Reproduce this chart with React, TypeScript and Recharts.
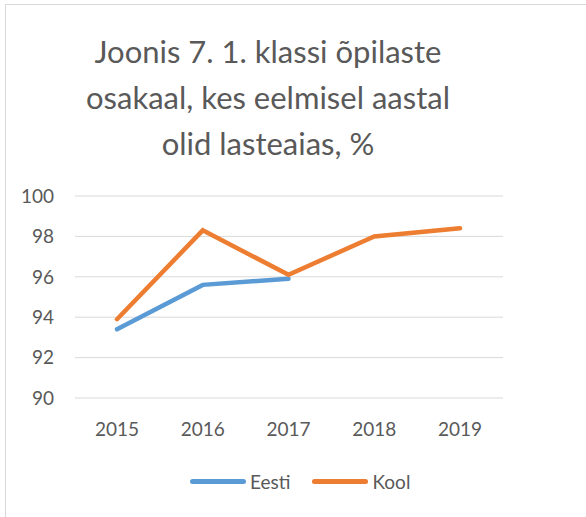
import { CartesianGrid, Line, LineChart, XAxis, YAxis } from "recharts";

const years = ["2015", "2016", "2017", "2018", "2019"];
const eesti: (number | null)[] = [93.4, 95.6, 95.9, null, null];
const kool: number[] = [93.9, 98.3, 96.1, 98.0, 98.4];
const yTicks = [90, 92, 94, 96, 98, 100];
const seriesNames = ["Eesti", "Kool"];
const seriesColors = ["#5b9bd5", "#ed7d31"];

const data = years.map((year, i) => ({ year, Eesti: eesti[i], Kool: kool[i] }));

const TEXT = "#595959";
const FONT = "Lato, 'Open Sans', sans-serif";

export default function App() {
  return (
    <div style={{ position: "absolute", left: 0, top: 0, width: 586, height: 517, overflow: "hidden", background: "#fff" }}>
      <div style={{ position: "absolute", left: 5, top: 4, width: 700, height: 700, border: "1px solid #d9d9d9" }} />
      <div
        style={{
          position: "absolute",
          left: 0,
          top: 28,
          width: 536,
          textAlign: "center",
          fontFamily: FONT,
          fontSize: 31,
          lineHeight: "46px",
          color: TEXT,
        }}
      >
        Joonis 7. 1. klassi õpilaste
        <br />
        osakaal, kes eelmisel aastal
        <br />
        olid lasteaias, %
      </div>
      <div style={{ position: "absolute", left: 0, top: 0 }}>
        <LineChart width={586} height={517} data={data} margin={{ top: 196, right: 83, bottom: 89, left: 0 }}>
          <CartesianGrid stroke="#d9d9d9" vertical={false} />
          <XAxis
            dataKey="year"
            height={30}
            padding={{ left: 42, right: 43 }}
            axisLine={false}
            tickLine={false}
            tickSize={0}
            tickMargin={25}
            tick={{ fill: TEXT, fontSize: 19, fontFamily: FONT }}
          />
          <YAxis
            width={75}
            domain={[90, 100]}
            ticks={yTicks}
            axisLine={false}
            tickLine={false}
            tickSize={0}
            tickMargin={21}
            tick={{ fill: TEXT, fontSize: 19, fontFamily: FONT }}
          />
          <Line dataKey="Eesti" stroke={seriesColors[0]} strokeWidth={4.5} dot={false} strokeLinecap="round" isAnimationActive={false} />
          <Line dataKey="Kool" stroke={seriesColors[1]} strokeWidth={4.5} dot={false} strokeLinecap="round" isAnimationActive={false} />
        </LineChart>
      </div>
      <div
        style={{
          position: "absolute",
          left: 190,
          top: 470,
          display: "flex",
          gap: 22,
          fontFamily: FONT,
          fontSize: 19,
          color: TEXT,
        }}
      >
        {seriesNames.map((name, i) => (
          <div key={name} style={{ display: "flex", alignItems: "center" }}>
            <span style={{ display: "inline-block", width: 56, height: 5, borderRadius: 3, background: seriesColors[i], marginRight: 4 }} />
            <span>{name}</span>
          </div>
        ))}
      </div>
    </div>
  );
}
